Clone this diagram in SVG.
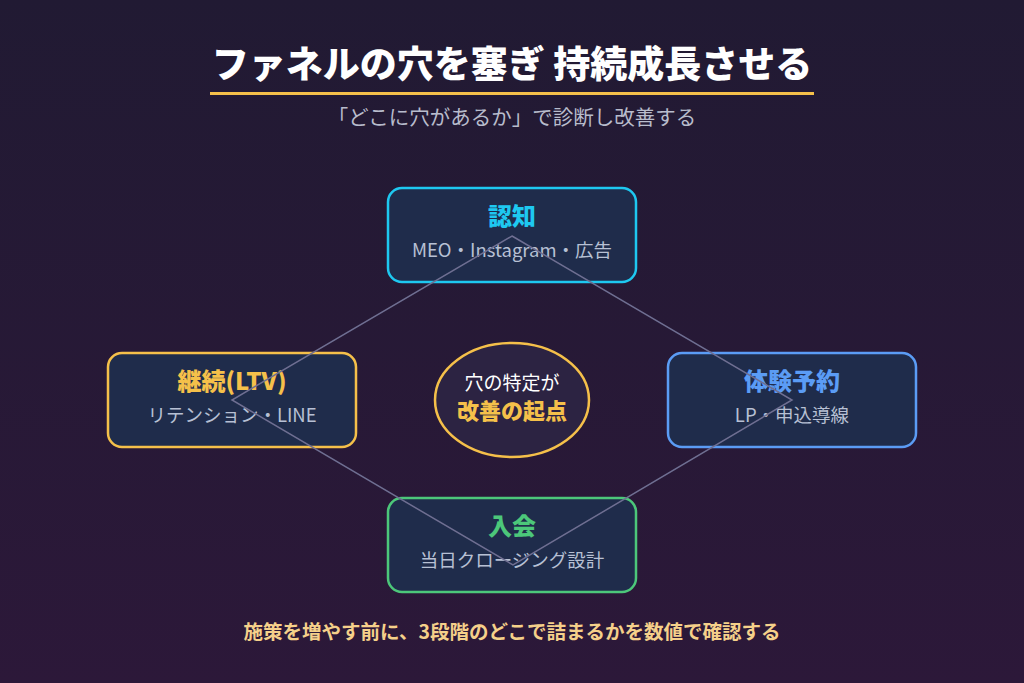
<svg xmlns="http://www.w3.org/2000/svg" width="1024" height="683" viewBox="0 0 1024 683">
<defs>
<linearGradient id="bg" x1="0" y1="0" x2="0" y2="1"><stop offset="0" stop-color="#211a33"/><stop offset="1" stop-color="#2c1839"/></linearGradient>
<style>
text{font-family:"Noto Sans CJK JP","Noto Sans",sans-serif;text-anchor:middle}
.box{fill:#1f2c4b;stroke-width:2.5}
.h{font-size:24px;font-weight:900}
.s{font-size:18.5px;fill:#b7c0d4}
</style>
</defs>
<rect width="1024" height="683" fill="url(#bg)"/>
<text x="512" y="78" font-size="37" font-weight="900" fill="#ffffff">ファネルの穴を塞ぎ 持続成長させる</text>
<rect x="210" y="92" width="604" height="3" fill="#f5c04a"/>
<text x="512" y="125" font-size="20.5" fill="#b8bccc">「どこに穴があるか」で診断し改善する</text>
<g id="n1"><rect class="box" x="388" y="188" width="248" height="94" rx="14" stroke="#1ec8f0"/><text class="h" x="512" y="225" fill="#1ec8f0">認知</text><text class="s" x="512" y="257">MEO・Instagram・広告</text></g>
<g id="n2"><rect class="box" x="668" y="353" width="248" height="94" rx="14" stroke="#5b9cf5"/><text class="h" x="792" y="390" fill="#5b9cf5">体験予約</text><text class="s" x="792" y="422">LP・申込導線</text></g>
<g id="n3"><rect class="box" x="388" y="498" width="248" height="94" rx="14" stroke="#4cc77a"/><text class="h" x="512" y="535" fill="#4cc77a">入会</text><text class="s" x="512" y="567">当日クロージング設計</text></g>
<g id="n4"><rect class="box" x="108" y="353" width="248" height="94" rx="14" stroke="#f5c04a"/><text class="h" x="232" y="390" fill="#f5c04a">継続(LTV)</text><text class="s" x="232" y="422">リテンション・LINE</text></g>
<g id="center"><ellipse cx="512" cy="400" rx="77" ry="57" fill="#2c2342" stroke="#f5c04a" stroke-width="2.5"/><text x="512" y="390" font-size="19" fill="#ffffff">穴の特定が</text><text x="512" y="419" font-size="22" font-weight="900" fill="#f5c04a">改善の起点</text></g>
<g id="connectors" fill="none" stroke="#6f6f92" stroke-width="1.5"><polygon points="512,236 792,400 513,565 232,400"/></g>
<text x="512" y="639" font-size="19.5" font-weight="bold" fill="#f5d08a">施策を増やす前に、3段階のどこで詰まるかを数値で確認する</text>
</svg>
